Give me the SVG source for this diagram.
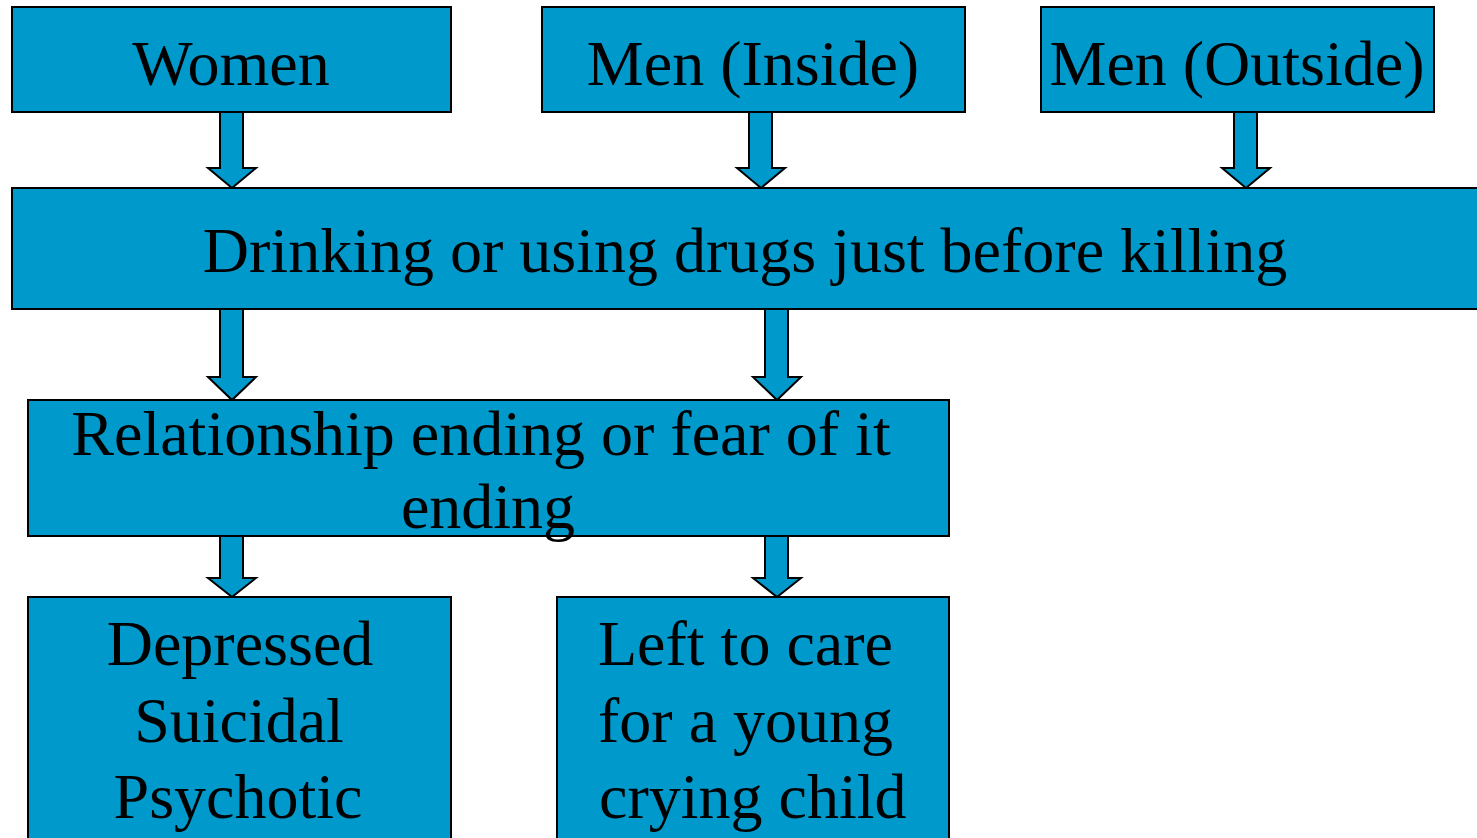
<svg xmlns="http://www.w3.org/2000/svg" width="1477" height="838" viewBox="0 0 1477 838">
<style>
.box{fill:#0099CC;stroke:#000;stroke-width:2}
.arr{fill:#0099CC;stroke:#000;stroke-width:2;stroke-linejoin:miter}
text{font-family:"Liberation Serif","Times New Roman","DejaVu Serif",serif;font-size:64px;fill:#000}
.c{text-anchor:middle}
</style>
<rect width="1477" height="838" fill="#fff"/>
<g id="connectors">
<path class="arr" d="M220,112 V168 H208 L232,188 L256,168 H243 V112 Z"/>
<path class="arr" d="M749,112 V168 H737 L761,188 L785,168 H772 V112 Z"/>
<path class="arr" d="M1234,112 V168 H1222 L1246,188 L1270,168 H1257 V112 Z"/>
<path class="arr" d="M220,309 V377 H208 L232,400 L256,377 H243 V309 Z"/>
<path class="arr" d="M765,309 V377 H753 L777,400 L801,377 H788 V309 Z"/>
<path class="arr" d="M220,536 V578 H208 L232,597 L256,578 H243 V536 Z"/>
<path class="arr" d="M765,536 V578 H753 L777,597 L801,578 H788 V536 Z"/>
</g>
<g id="women">
<rect class="box" x="12" y="7" width="439" height="105"/>
<text class="c" x="231" y="85">Women</text>
</g>
<g id="men-inside">
<rect class="box" x="542" y="7" width="423" height="105"/>
<text class="c" x="753" y="85">Men (Inside)</text>
</g>
<g id="men-outside">
<rect class="box" x="1041" y="7" width="393" height="105"/>
<text class="c" x="1237" y="85">Men (Outside)</text>
</g>
<g id="drinking">
<rect class="box" x="12" y="188" width="1470" height="121"/>
<text class="c" x="745" y="272">Drinking or using drugs just before killing</text>
</g>
<g id="relationship">
<rect class="box" x="28" y="400" width="921" height="136"/>
<text class="c" x="481" y="455">Relationship ending or fear of it</text>
<text class="c" x="488" y="528">ending</text>
</g>
<g id="depressed">
<rect class="box" x="28" y="597" width="423" height="250"/>
<text class="c" x="240" y="665">Depressed</text>
<text class="c" x="239" y="742">Suicidal</text>
<text class="c" x="238" y="818">Psychotic</text>
</g>
<g id="left-to-care">
<rect class="box" x="557" y="597" width="392" height="250"/>
<text x="598" y="665">Left to care</text>
<text x="598" y="742">for a young</text>
<text x="599" y="818">crying child</text>
</g>
</svg>
